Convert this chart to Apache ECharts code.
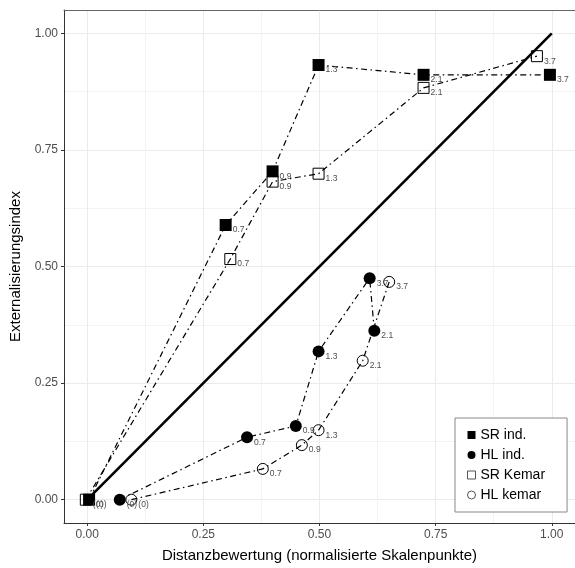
<!DOCTYPE html>
<html>
<head>
<meta charset="utf-8">
<script src="https://cdn.jsdelivr.net/npm/echarts@6/dist/echarts.min.js"></script>
<style>
html, body { margin: 0; padding: 0; background: #fff; }
#main { width: 575px; height: 568px; }
</style>
</head>
<body>
<div id="main"></div>
<script>
// Stufen (Reihenfolge der Messpunkte)
var stufen = ['(0)', '0.7', '0.9', '1.3', '2.1', '3.7'];

var xSRind = [0.004, 0.298, 0.399, 0.498, 0.724, 0.996];
var ySRind = [0, 0.589, 0.704, 0.932, 0.911, 0.911];
var xHLind = [0.070, 0.344, 0.449, 0.498, 0.618, 0.608];
var yHLind = [0, 0.134, 0.158, 0.318, 0.362, 0.475];
var xSRkemar = [-0.003, 0.308, 0.399, 0.498, 0.724, 0.968];
var ySRkemar = [0, 0.516, 0.682, 0.699, 0.883, 0.951];
var xHLkemar = [0.095, 0.378, 0.462, 0.498, 0.593, 0.650];
var yHLkemar = [0, 0.066, 0.117, 0.149, 0.298, 0.467];

var diag = [0, 1];
var majorTicks = [0, 0.25, 0.5, 0.75, 1];
var minorTicks = [0.125, 0.375, 0.625, 0.875];

var font = '"Liberation Sans", Arial, Helvetica, sans-serif';

// wie geom_line: nach x sortiert verbinden
function punkte(xs, ys) {
    var d = [];
    for (var i = 0; i < xs.length; i++) {
        d.push({ value: [xs[i], ys[i]], stufe: stufen[i] });
    }
    d.sort(function (a, b) { return a.value[0] - b.value[0]; });
    return d;
}

function reihe(name, xs, ys, symbol, size, filled) {
    return {
        name: name,
        type: 'line',
        xAxisIndex: 0,
        yAxisIndex: 0,
        data: punkte(xs, ys),
        symbol: symbol,
        symbolSize: size,
        showAllSymbol: true,
        z: 3,
        lineStyle: {
            color: '#000',
            width: 1.2,
            type: [6, 3.5, 1.5, 3.5]
        },
        itemStyle: filled
            ? { color: '#000', borderWidth: 0 }
            : { color: 'rgba(0,0,0,0)', borderColor: '#000', borderWidth: 1 },
        label: {
            show: true,
            position: 'right',
            distance: 1,
            offset: [0, 5],
            fontSize: 8.5,
            fontFamily: font,
            color: '#4d4d4d',
            formatter: function (p) { return p.data.stufe; }
        },
        emphasis: { disabled: true }
    };
}

var chart = echarts.init(document.getElementById('main'));

var achseX = {
    type: 'value',
    min: -0.05,
    max: 1.05
};

var option = {
    animation: false,
    backgroundColor: '#fff',
    grid: { left: 64, right: -11, top: 10, bottom: 43 },
    xAxis: [
        Object.assign({}, achseX, {
            position: 'bottom',
            name: 'Distanzbewertung (normalisierte Skalenpunkte)',
            nameLocation: 'middle',
            nameGap: 25,
            nameTextStyle: { fontSize: 15, color: '#000', fontFamily: font },
            axisLine: { show: true, onZero: false, lineStyle: { color: '#333', width: 1 } },
            axisTick: { show: true, length: 3, customValues: majorTicks, lineStyle: { color: '#333' } },
            axisLabel: { customValues: majorTicks, fontSize: 12, color: '#4d4d4d', fontFamily: font, margin: 6,
                formatter: function (v) { return v.toFixed(2); } },
            splitLine: { show: true, lineStyle: { color: '#ebebeb', width: 1 } }
        }),
        Object.assign({}, achseX, {
            position: 'top',
            axisLine: { show: true, onZero: false, lineStyle: { color: '#666', width: 1 } },
            axisTick: { show: false, customValues: minorTicks },
            axisLabel: { show: false, customValues: minorTicks },
            splitLine: { show: true, lineStyle: { color: '#f3f3f3', width: 1 } }
        })
    ],
    yAxis: [
        Object.assign({}, achseX, {
            position: 'left',
            name: 'Externalisierungsindex',
            nameLocation: 'middle',
            nameGap: 37,
            nameTextStyle: { fontSize: 15, color: '#000', fontFamily: font },
            axisLine: { show: true, onZero: false, lineStyle: { color: '#333', width: 1 } },
            axisTick: { show: true, length: 3, customValues: majorTicks, lineStyle: { color: '#333' } },
            axisLabel: { customValues: majorTicks, fontSize: 12, color: '#4d4d4d', fontFamily: font, margin: 6,
                formatter: function (v) { return v.toFixed(2); } },
            splitLine: { show: true, lineStyle: { color: '#ebebeb', width: 1 } }
        }),
        Object.assign({}, achseX, {
            position: 'right',
            axisLine: { show: false },
            axisTick: { show: false, customValues: minorTicks },
            axisLabel: { show: false, customValues: minorTicks },
            splitLine: { show: true, lineStyle: { color: '#f3f3f3', width: 1 } }
        })
    ],
    legend: {
        orient: 'vertical',
        left: 455,
        top: 418,
        padding: [10, 22, 10, 12],
        itemGap: 6,
        itemWidth: 8,
        itemHeight: 8,
        backgroundColor: '#fff',
        borderColor: '#888',
        borderWidth: 1,
        textStyle: { fontSize: 14, color: '#000', fontFamily: font },
        data: [
            { name: 'SR ind.', icon: 'rect', itemStyle: { color: '#000', borderWidth: 0 } },
            { name: 'HL ind.', icon: 'circle', itemStyle: { color: '#000', borderWidth: 0 } },
            { name: 'SR Kemar', icon: 'rect', itemStyle: { color: 'rgba(0,0,0,0)', borderColor: '#555', borderWidth: 1 } },
            { name: 'HL kemar', icon: 'circle', itemStyle: { color: 'rgba(0,0,0,0)', borderColor: '#555', borderWidth: 1 } }
        ]
    },
    series: [
        {
            name: 'diagonale',
            type: 'line',
            data: [[diag[0], diag[0]], [diag[1], diag[1]]],
            symbol: 'none',
            z: 2,
            lineStyle: { color: '#000', width: 2.6, type: 'solid' },
            emphasis: { disabled: true }
        },
        reihe('SR ind.', xSRind, ySRind, 'rect', 12, true),
        reihe('HL ind.', xHLind, yHLind, 'circle', 12, true),
        reihe('SR Kemar', xSRkemar, ySRkemar, 'rect', 11, false),
        reihe('HL kemar', xHLkemar, yHLkemar, 'circle', 11, false)
    ]
};

chart.setOption(option);
window.addEventListener('resize', function () {
    chart.resize();
});
</script>
</body>
</html>
